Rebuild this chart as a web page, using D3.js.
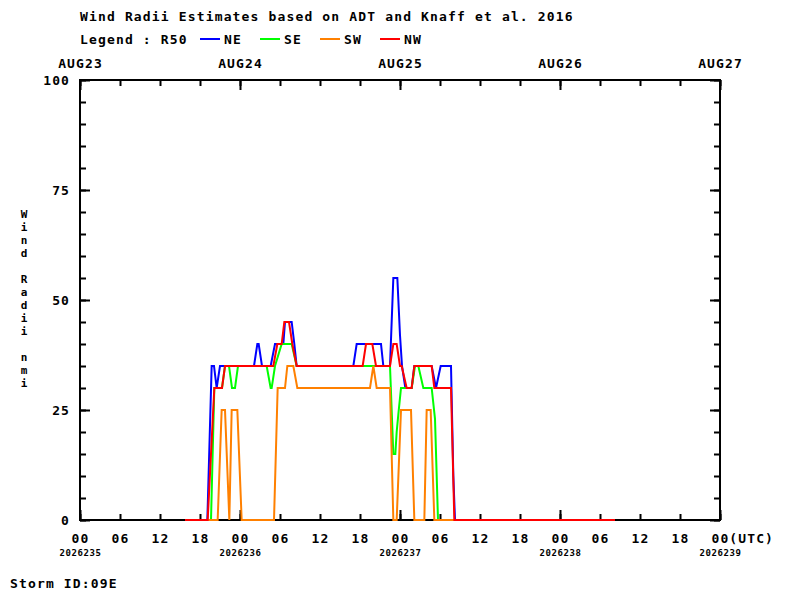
<!DOCTYPE html>
<html>
<head>
<meta charset="utf-8">
<script src="https://cdn.jsdelivr.net/npm/d3@7"></script>
<style>
  body { margin: 0; background: #fff; }
  svg { display: block; }
  text { font-family: "DejaVu Sans Mono", "Liberation Mono", monospace; font-weight: bold; fill: #000; }
</style>
</head>
<body>
<svg id="chart" width="800" height="600"></svg>
<script>
// ---- data (hours after 2026235 00Z, radius in nmi) ----
const neHours = [15.75, 19.1, 19.75, 20.1, 20.5, 21.0, 26.1, 26.6, 26.8, 27.3, 28.6, 29.25, 30.5, 30.75, 31.75, 32.15, 32.5, 41.0, 41.5, 45.15, 45.5, 46.5, 47.0, 47.6, 48.0, 48.3, 48.8, 49.75, 50.15, 52.75, 53.4, 54.1, 55.65, 56.0, 56.25, 80.25];
const neVals  = [0, 0, 35, 35, 30, 35, 35, 40, 40, 35, 35, 40, 40, 45, 45, 40, 35, 35, 40, 40, 35, 35, 55, 55, 42, 35, 30, 30, 35, 35, 30, 35, 35, 10, 0, 0];

const seHours = [15.75, 19.65, 20.15, 21.3, 21.75, 22.35, 22.8, 23.25, 23.7, 28.0, 28.6, 28.75, 29.25, 30.25, 31.75, 32.5, 46.5, 47.0, 47.3, 47.5, 47.75, 48.15, 49.75, 50.25, 50.75, 51.5, 52.75, 53.25, 53.7, 80.25];
const seVals  = [0, 0, 30, 30, 35, 35, 30, 30, 35, 35, 30, 30, 35, 40, 40, 35, 35, 15, 15, 20, 24, 30, 30, 35, 35, 30, 30, 23, 0, 0];

const swHours = [15.75, 20.65, 21.25, 21.75, 22.4, 22.75, 23.6, 24.25, 29.1, 29.65, 30.75, 31.1, 32.0, 32.6, 43.5, 44.0, 44.5, 46.5, 47.0, 47.5, 48.15, 49.65, 50.15, 51.65, 52.0, 52.6, 53.15, 80.25];
const swVals  = [0, 0, 25, 25, 0, 25, 25, 0, 0, 30, 30, 35, 35, 30, 30, 35, 30, 30, 0, 0, 25, 25, 0, 0, 25, 25, 0, 0];

const nwHours = [15.75, 19.15, 20.15, 21.3, 21.75, 29.0, 29.6, 30.25, 30.65, 31.35, 31.85, 32.5, 42.4, 42.9, 43.85, 44.4, 46.5, 47.0, 47.5, 48.0, 48.25, 49.0, 49.75, 50.15, 52.75, 53.15, 55.65, 56.15, 80.25];
const nwVals  = [0, 0, 30, 30, 35, 35, 40, 40, 45, 45, 40, 35, 35, 40, 40, 35, 35, 40, 40, 35, 35, 30, 30, 35, 35, 30, 30, 0, 0];

const seriesNames  = ["NE", "SE", "SW", "NW"];
const seriesColors = ["#0000ff", "#00ff00", "#ff8000", "#ff0000"];

const dayLabels  = ["AUG23", "AUG24", "AUG25", "AUG26", "AUG27"];
const dateLabels = ["2026235", "2026236", "2026237", "2026238", "2026239"];
const hourLabels = ["00", "06", "12", "18"];
const yLabels    = [0, 25, 50, 75, 100];

// ---- layout ----
const svg = d3.select("#chart");
svg.append("rect").attr("width", 800).attr("height", 600).attr("fill", "#fff");
const L = 80, R = 720, T = 80, B = 520;

const x = d3.scaleLinear().domain([0, 96]).range([L, R]);
const y = d3.scaleLinear().domain([0, 100]).range([B, T]);

const hourTicks = d3.range(0, 97, 6);
const dayTicks  = d3.range(0, 97, 24);
const minorY    = d3.range(0, 101, 5);

function styleAxis(g) {
  g.select(".domain").remove();
  g.selectAll("line").attr("stroke", "#000").attr("stroke-width", 2);
}

// bottom axis
svg.append("g").attr("transform", `translate(0,${B})`)
  .call(d3.axisBottom(x).tickValues(hourTicks).tickSize(-6).tickPadding(14)
    .tickFormat(h => (h === 96 ? "00(UTC)" : hourLabels[(h % 24) / 6])))
  .call(styleAxis)
  .call(g => g.selectAll("text").attr("font-size", 13).attr("letter-spacing", 1.1).attr("dy", "0.71em"))
  .call(g => g.selectAll(".tick").filter(d => d === 96).select("text")
    .attr("text-anchor", "start").attr("x", -9));

svg.append("g").attr("transform", `translate(0,${B})`)
  .call(d3.axisBottom(x).tickValues(dayTicks).tickSize(-10).tickPadding(30)
    .tickFormat((d, i) => dateLabels[i]))
  .call(styleAxis)
  .call(g => g.selectAll("text").attr("font-size", 9).attr("letter-spacing", 0.6).attr("dy", "0.71em"));

// top axis
svg.append("g").attr("transform", `translate(0,${T})`)
  .call(d3.axisTop(x).tickValues(hourTicks).tickSize(-6).tickFormat(""))
  .call(styleAxis);
svg.append("g").attr("transform", `translate(0,${T})`)
  .call(d3.axisTop(x).tickValues(dayTicks).tickSize(-10).tickPadding(12)
    .tickFormat((d, i) => dayLabels[i]))
  .call(styleAxis)
  .call(g => g.selectAll("text").attr("font-size", 13).attr("letter-spacing", 1.1));

// left axis
svg.append("g").attr("transform", `translate(${L},0)`)
  .call(d3.axisLeft(y).tickValues(minorY).tickSize(-6).tickFormat(""))
  .call(styleAxis);
svg.append("g").attr("transform", `translate(${L},0)`)
  .call(d3.axisLeft(y).tickValues(yLabels).tickSize(-10).tickPadding(10).tickFormat(d3.format("d")))
  .call(styleAxis)
  .call(g => g.selectAll("text").attr("font-size", 13).attr("letter-spacing", 1.1).attr("dy", "0.36em"));

// right axis
svg.append("g").attr("transform", `translate(${R},0)`)
  .call(d3.axisRight(y).tickValues(minorY).tickSize(-6).tickFormat(""))
  .call(styleAxis);
svg.append("g").attr("transform", `translate(${R},0)`)
  .call(d3.axisRight(y).tickValues(yLabels).tickSize(-10).tickFormat(""))
  .call(styleAxis);

// frame
svg.append("rect").attr("x", L).attr("y", T).attr("width", R - L).attr("height", B - T)
  .attr("fill", "none").attr("stroke", "#000").attr("stroke-width", 2);

// series
const allHours = [neHours, seHours, swHours, nwHours];
const allVals  = [neVals, seVals, swVals, nwVals];
const line = d3.line().x(d => x(d[0])).y(d => y(d[1]));
const plot = svg.append("g");
allHours.forEach((hrs, i) => {
  const pts = hrs.map((h, j) => [h, allVals[i][j]]);
  plot.append("path").datum(pts).attr("d", line)
    .attr("fill", "none").attr("stroke", seriesColors[i]).attr("stroke-width", 2)
    .attr("stroke-linejoin", "miter");
});

// title & legend
svg.append("text").attr("x", 80).attr("y", 21).attr("font-size", 13).attr("letter-spacing", 1.15)
  .text("Wind Radii Estimates based on ADT and Knaff et al. 2016");
svg.append("text").attr("x", 80).attr("y", 44).attr("font-size", 13).attr("letter-spacing", 1.15)
  .text("Legend : R50");
seriesNames.forEach((n, i) => {
  const lx = 200 + i * 60;
  svg.append("line").attr("x1", lx).attr("x2", lx + 20).attr("y1", 39).attr("y2", 39)
    .attr("stroke", seriesColors[i]).attr("stroke-width", 2);
  svg.append("text").attr("x", lx + 24).attr("y", 44).attr("font-size", 13).attr("letter-spacing", 1.15).text(n);
});

// y-axis title (stacked letters)
const yTitle = "Wind Radii nmi";
svg.append("g").selectAll("text").data(yTitle.split("")).join("text")
  .attr("x", 24).attr("y", (c, i) => 218 + i * 13).attr("text-anchor", "middle")
  .attr("font-size", 11).text(c => c);

// storm id
svg.append("text").attr("x", 10).attr("y", 588).attr("font-size", 13).attr("letter-spacing", 1.15)
  .text("Storm ID:09E");
</script>
</body>
</html>
